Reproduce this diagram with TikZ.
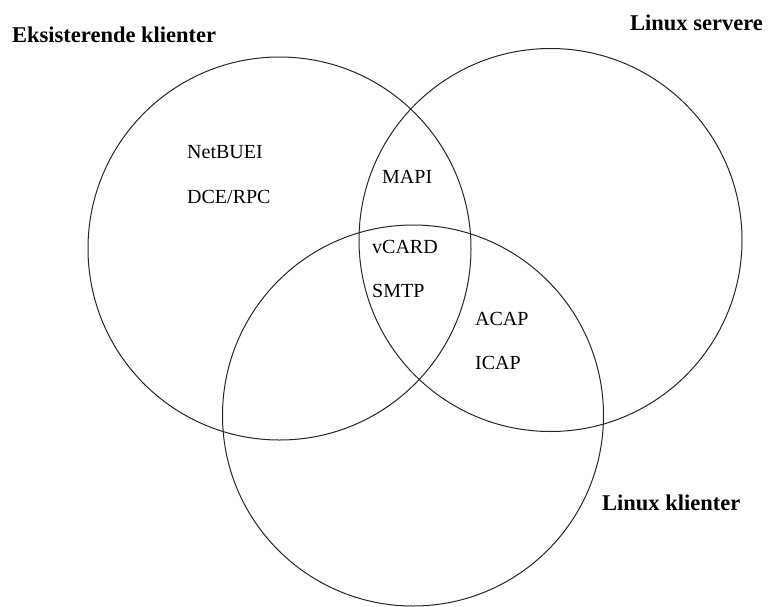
\documentclass[tikz,border=0pt]{standalone}
\usepackage{fontspec}
\setmainfont{Liberation Serif}
\begin{document}
\begin{tikzpicture}[x=1pt,y=-1pt,
  ring/.style={circle,draw=black!85,line width=1pt,inner sep=0pt,outer sep=0pt},
  setlabel/.style={anchor=base west,inner sep=0pt,font=\fontsize{22.5}{26}\selectfont\bfseries},
  item/.style={anchor=base west,inner sep=0pt,font=\fontsize{20}{24}\selectfont}]
\useasboundingbox (0,0) rectangle (771,606);
\node[ring,minimum size=383pt] (c1) at (279.5,248.5) {};
\node[ring,minimum size=383pt] (c2) at (550.5,240) {};
\node[ring,minimum size=381pt] (c3) at (413,415.5) {};
\node[setlabel] (l1) at (12,42) {Eksisterende klienter};
\node[setlabel] (l2) at (630,30) {Linux servere};
\node[setlabel] (l3) at (602,510) {Linux klienter};
\node[item] (netbuei) at (187,158) {NetBUEI};
\node[item] (dce) at (187,203) {DCE/RPC};
\node[item] (mapi) at (382,183) {MAPI};
\node[item] (vcard) at (372,253) {vCARD};
\node[item] (smtp) at (372,297) {SMTP};
\node[item] (acap) at (475,325) {ACAP};
\node[item] (icap) at (475,369) {ICAP};
\end{tikzpicture}
\end{document}
